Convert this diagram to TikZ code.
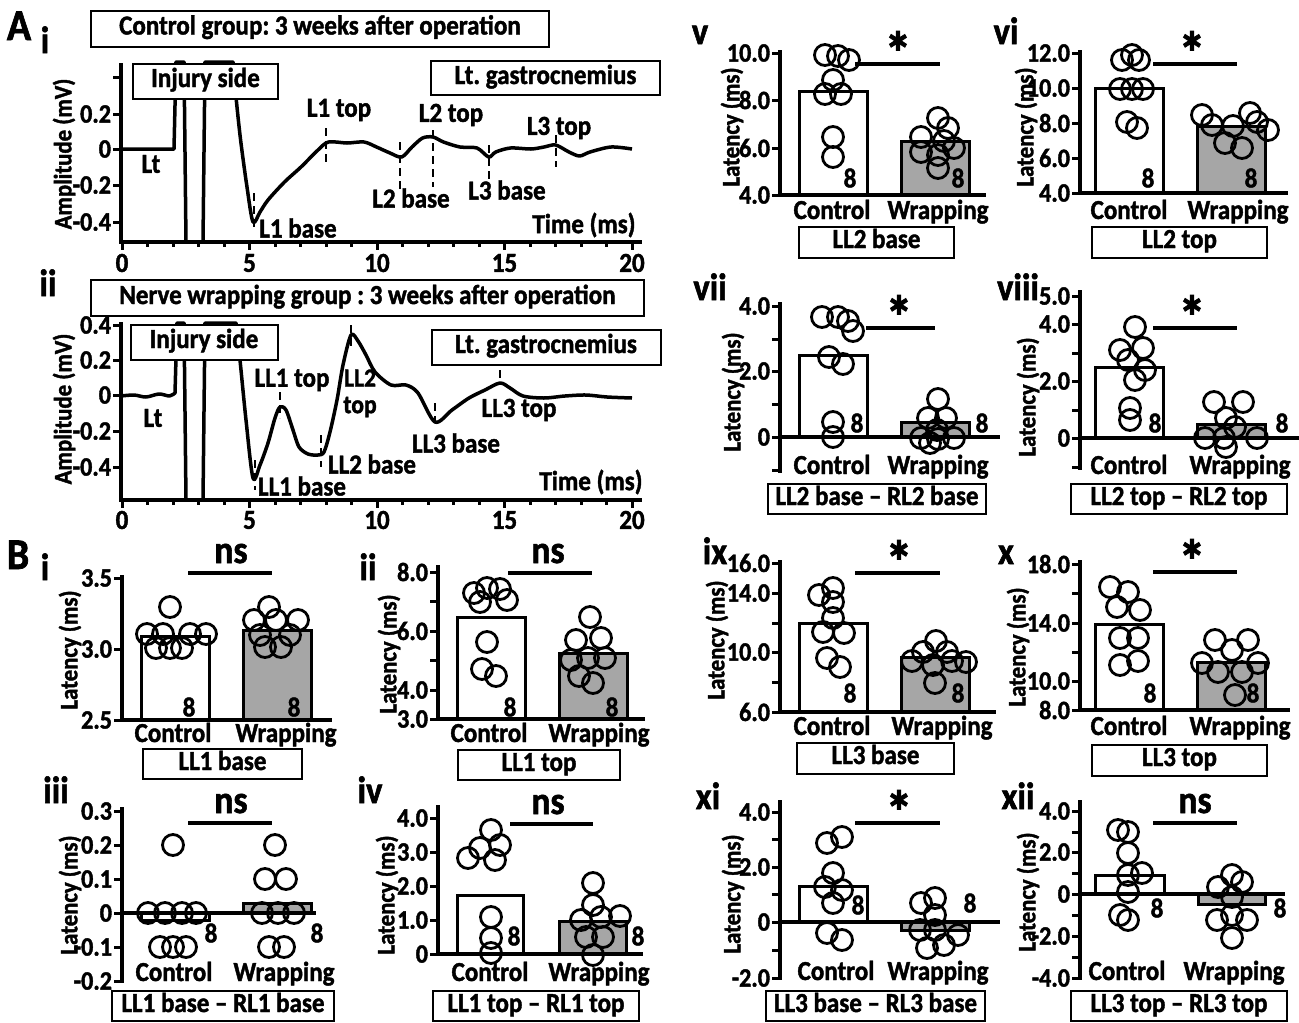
\documentclass[tikz,border=0pt]{standalone}
\usepackage{fontspec}
\setmainfont{Carlito}[FakeStretch=0.91, BoldFeatures={FakeBold=1.5}]
\newcommand\myfs[1]{\fontsize{#1}{#1}\selectfont}
\newcommand\ytk[3]{\draw[tkl] (#1-8,#2) -- (#1,#2); \node[tl] at (#1-10,#2) {#3};}
\newcommand\ymt[2]{\draw[tkl] (#1-8,#2) -- (#1,#2);}
\definecolor{barg}{RGB}{166,166,166}
\frenchspacing
\begin{document}
\begin{tikzpicture}[x=1pt,y=-1pt,
  every node/.style={inner sep=0pt, outer sep=0pt},
  txt/.style={font=\bfseries\myfs{27.5}},
  plab/.style={font=\bfseries\myfs{38}, anchor=base},
  big/.style={font=\bfseries\myfs{44}, anchor=base},
  star/.style={font=\bfseries\myfs{39}, anchor=base},
  ast/.style={font=\bfseries\myfs{60}, anchor=base},
  ylab/.style={font=\bfseries\myfs{25}, rotate=90},
  tl/.style={font=\bfseries\myfs{26.5}, anchor=east},
  grp/.style={font=\bfseries\myfs{27.5}, anchor=base},
  axl/.style={line width=4pt},
  tkl/.style={line width=3pt},
  cbar/.style={draw, line width=3pt, fill=white},
  wbar/.style={draw, line width=3pt, fill=barg},
  dot/.style={draw, line width=2.8pt},
  sigl/.style={line width=4.5pt},
  box/.style={draw, line width=2pt, fill=white, font=\bfseries\myfs{27.5}, text height=17pt, text depth=5pt},
  trace/.style={line width=3.5pt, line join=round},
  dsh/.style={line width=2.5pt, dash pattern=on 8pt off 5pt},
]
\useasboundingbox (0,0) rectangle (1299,1023);
\fill[white] (0,0) rectangle (1299,1023);

%================ A i =================
\draw[trace] (121,149) -- (174,149) -- (176,62) -- (184,62) -- (186,242) -- (203,242) -- (205,62) -- (233,62) --
 plot[smooth,tension=0.5] coordinates {(233,62) (236,97) (240.6,140) (247,187) (253,222) (260,212) (268,200) (284.5,182) (301,167) (318,150) (328.5,142) (347,143) (364,142) (376.5,147) (390,153) (401.7,157) (412,147) (422.6,138) (433,137) (443.5,142) (460,147) (477,148) (488.7,157) (495.8,152) (510.5,148) (531,149) (544,147) (555.6,145) (569,152) (579.5,156) (590,152) (611,147) (632,149)};
\draw[dsh] (254,193) -- (254,230);
\draw[dsh] (326,128) -- (326,162);
\draw[dsh] (400,142) -- (400,193);
\draw[dsh] (433,130) -- (433,187);
\draw[dsh] (489,145) -- (489,188);
\draw[dsh] (556,135) -- (556,167);
\draw[axl] (121,63) -- (121,242) -- (642,242);
\ymt{121}{77}
\ytk{121}{114}{0.2}
\ytk{121}{149}{0}
\ytk{121}{185}{-0.2}
\ytk{121}{222}{-0.4}
\foreach \t in {0,...,20} \draw[tkl] (122+25.5*\t,242) -- (122+25.5*\t,247);
\foreach \t in {0,5,...,20} {\draw[tkl] (122+25.5*\t,242) -- (122+25.5*\t,250); \node[txt] at (122+25.5*\t,263) {\t};}
\node[box, minimum width=458pt, minimum height=36pt] (tA1) at (320,28.5) {Control group: 3 weeks after operation};
\node[box, minimum width=145pt, minimum height=35pt] (inj1) at (205.5,81) {Injury side};
\node[box, minimum width=229pt, minimum height=34pt] (gas1) at (545.5,78) {Lt. gastrocnemius};
\node[ylab] (yA1) at (64,154) {Amplitude (mV)};
\node[txt] (lt1) at (151,164) {Lt};
\node[txt] (l1t) at (339,110) {L1 top};
\node[txt] (l2t) at (451,115) {L2 top};
\node[txt] (l3t) at (559,128) {L3 top};
\node[txt] (l2b) at (411,198) {L2 base};
\node[txt] (l3b) at (507,190) {L3 base};
\node[txt] (l1b) at (298,228) {L1 base};
\node[txt] (tm1) at (584,225) {Time (ms)};
\node[big] (A) at (19,40) {A};
\node[plab] (Ai) at (45,53) {i};

%================ A ii =================
\draw[trace] plot[smooth] coordinates {(121,396) (134,395) (146,397) (159,394) (169.5,396) (175,393)} -- (177,323) -- (184,323) -- (186,500) -- (203,500) -- (205,323) -- (236,323) --
 plot[smooth,tension=0.5] coordinates {(236,323) (240,360) (246,420) (253,478) (260,465) (268,443) (275,418) (280,407) (286,410) (293,430) (299,447) (308,454) (318,455) (324,452) (330,432) (337,400) (343,365) (351,335) (358,341) (366,355) (375,372) (391,385) (406,385) (418,393) (435,422) (452,410) (469,398) (485,390) (500,383) (510,388) (523,396) (544,398) (565,396) (586,395) (607,397) (632,398)};
\draw[dsh] (255,460) -- (255,490);
\draw[dsh] (280,392) -- (280,418);
\draw[dsh] (321,435) -- (321,467);
\draw[dsh] (351,325) -- (351,347);
\draw[dsh] (435,403) -- (435,422);
\draw[dsh] (500,370) -- (500,385);
\draw[axl] (121,322) -- (121,500) -- (642,500);
\ytk{121}{325}{0.4}
\ytk{121}{360}{0.2}
\ytk{121}{395}{0}
\ytk{121}{431}{-0.2}
\ytk{121}{467}{-0.4}
\foreach \t in {0,...,20} \draw[tkl] (122+25.5*\t,500) -- (122+25.5*\t,505);
\foreach \t in {0,5,...,20} {\draw[tkl] (122+25.5*\t,500) -- (122+25.5*\t,508); \node[txt] at (122+25.5*\t,520) {\t};}
\node[box, minimum width=553pt, minimum height=36pt] (tA2) at (367.5,298) {Nerve wrapping group : 3 weeks after operation};
\node[box, minimum width=147pt, minimum height=35pt] (inj2) at (204,342) {Injury side};
\node[box, minimum width=229pt, minimum height=35pt] (gas2) at (546,347) {Lt. gastrocnemius};
\node[ylab] (yA2) at (64,409) {Amplitude (mV)};
\node[txt] (lt2) at (153,418) {Lt};
\node[txt] (ll1t) at (292,380) {LL1 top};
\node[font=\bfseries\myfs{26}] (ll2t) at (360,378) {LL2};
\node[font=\bfseries\myfs{26}] (ll2tt) at (360,407) {top};
\node[txt] (ll2b) at (372,464) {LL2 base};
\node[txt] (ll1b) at (302,486) {LL1 base};
\node[txt] (ll3b) at (456,443) {LL3 base};
\node[txt] (ll3t) at (519,410) {LL3 top};
\node[txt] (tm2) at (591,482) {Time (ms)};
\node[plab] (Aii) at (48,296) {ii};

%================ B i =================
\draw[cbar] (141,720) rectangle (209,636);
\draw[wbar] (243,720) rectangle (311,630);
\draw[axl] (122,575) -- (122,720) -- (332,720);
\ytk{122}{578}{3.5}
\ytk{122}{649}{3.0}
\ytk{122}{720}{2.5}
\foreach \a/\b in {170/607, 147/634, 163/634, 190/634, 206/634, 156/648, 170/648, 182/648, 269/607, 254/620, 276/620, 298/620, 260/635, 290/635, 265/647, 281/647} \draw[dot] (\a,\b) circle[radius=10.5pt];
\node[txt] at (189,707) {8}; \node[txt] at (294,707) {8};
\draw[sigl] (188,573) -- (272,573);
\node[star] at (231,563) {ns};
\node[ylab] at (70,650) {Latency (ms)};
\node[grp] at (173,742) {Control}; \node[grp] at (286,742) {Wrapping};
\node[box, minimum width=159pt, minimum height=30pt] (bi) at (222.5,764) {LL1 base};
\node[big] (B) at (18,569) {B};
\node[plab] at (45,580) {i};

%================ B ii =================
\draw[cbar] (457,719) rectangle (525,617);
\draw[wbar] (559,719) rectangle (627,653);
\draw[axl] (438,565) -- (438,719) -- (645,719);
\ytk{438}{572}{8.0}
\ymt{438}{601}
\ytk{438}{631}{6.0}
\ymt{438}{660}
\ytk{438}{690}{4.0}
\ytk{438}{719}{3.0}
\foreach \a/\b in {474/593, 487/588, 500/589, 507/600, 480/602, 487/642, 482/669, 496/676, 590/617, 576/640, 601/638, 571/660, 588/658, 605/658, 579/676, 593/683} \draw[dot] (\a,\b) circle[radius=10.5pt];
\node[txt] at (510,707) {8}; \node[txt] at (612,707) {8};
\draw[sigl] (508,573) -- (592,573);
\node[star] at (548,563) {ns};
\node[ylab] at (389,654) {Latency (ms)};
\node[grp] at (489,742) {Control}; \node[grp] at (599,742) {Wrapping};
\node[box, minimum width=162pt, minimum height=30pt] (bii) at (539,765) {LL1 top};
\node[plab] at (368,580) {ii};

%================ B iii =================
\draw[cbar] (141,913) rectangle (209,920);
\draw[wbar] (243,913) rectangle (311,903);
\draw[axl] (122,807) -- (122,983);
\draw[axl] (122,913) -- (316,913);
\ytk{122}{811}{0.3}
\ytk{122}{845}{0.2}
\ytk{122}{879}{0.1}
\ytk{122}{913}{0}
\ytk{122}{947}{-0.1}
\ytk{122}{981}{-0.2}
\foreach \a/\b in {173/845, 148/913, 165/913, 182/913, 196/913, 160/947, 173/947, 186/947, 275/845, 265/879, 286/879, 262/913, 278/913, 294/913, 269/947, 284/947} \draw[dot] (\a,\b) circle[radius=10.5pt];
\node[txt] at (211,933) {8}; \node[txt] at (317,933) {8};
\draw[sigl] (188,823) -- (272,823);
\node[star] at (231,813) {ns};
\node[ylab] at (70,895) {Latency (ms)};
\node[grp] at (174,981) {Control}; \node[grp] at (284,981) {Wrapping};
\node[box, minimum width=222pt, minimum height=30pt] (biii) at (223,1006) {LL1 base – RL1 base};
\node[plab] at (56,803) {iii};

%================ B iv =================
\draw[cbar] (457,954) rectangle (523,895);
\draw[wbar] (559,954) rectangle (626,921);
\draw[axl] (438,805) -- (438,954) -- (643,954);
\ytk{438}{818}{4.0}
\ytk{438}{852}{3.0}
\ytk{438}{886}{2.0}
\ytk{438}{920}{1.0}
\ytk{438}{954}{0}
\foreach \a/\b in {491/830, 480/848, 500/845, 468/858, 495/860, 491/917, 491/938, 491/953, 593/883, 593/905, 581/920, 601/917, 620/916, 586/937, 603/937, 593/955} \draw[dot] (\a,\b) circle[radius=10.5pt];
\node[txt] at (514,936) {8}; \node[txt] at (638,936) {8};
\draw[sigl] (510,824) -- (593,824);
\node[star] at (548,814) {ns};
\node[ylab] at (387,895) {Latency (ms)};
\node[grp] at (490,981) {Control}; \node[grp] at (599,981) {Wrapping};
\node[box, minimum width=206pt, minimum height=30pt] (biv) at (536,1006) {LL1 top – RL1 top};
\node[plab] at (370,803) {iv};

%================ v =================
\draw[cbar] (799,195) rectangle (867,91);
\draw[wbar] (901,195) rectangle (969,141);
\draw[axl] (780,50) -- (780,195) -- (986,195);
\ytk{780}{53}{10.0}
\ytk{780}{100}{8.0}
\ytk{780}{148}{6.0}
\ytk{780}{195}{4.0}
\foreach \a/\b in {825/55, 838/56, 849/60, 833/80, 825/94, 841/94, 833/137, 833/157, 938/118, 948/128, 921/137, 944/141, 954/148, 921/152, 938/155, 938/168} \draw[dot] (\a,\b) circle[radius=10.5pt];
\node[txt] at (850,178) {8}; \node[txt] at (958,178) {8};
\draw[sigl] (855,64) -- (940,64);
\node[ast] at (898,74) {*};
\node[ylab] at (732,127) {Latency (ms)};
\node[grp] at (832,219) {Control}; \node[grp] at (938,219) {Wrapping};
\node[box, minimum width=155pt, minimum height=31pt] (bv) at (876.5,242) {LL2 base};
\node[plab] at (700,44) {v};

%================ vi =================
\draw[cbar] (1095,193) rectangle (1163,88);
\draw[wbar] (1197,193) rectangle (1265,126);
\draw[axl] (1080,50) -- (1080,193) -- (1288,193);
\ytk{1080}{53}{12.0}
\ytk{1080}{88}{10.0}
\ytk{1080}{123}{8.0}
\ytk{1080}{158}{6.0}
\ytk{1080}{193}{4.0}
\foreach \a/\b in {1122/60, 1132/55, 1139/60, 1120/89, 1132/89, 1143/89, 1127/122, 1137/128, 1202/115, 1212/125, 1233/126, 1250/113, 1257/122, 1268/130, 1225/143, 1242/148} \draw[dot] (\a,\b) circle[radius=10.5pt];
\node[txt] at (1148,178) {8}; \node[txt] at (1251,178) {8};
\draw[sigl] (1153,64) -- (1237,64);
\node[ast] at (1192,74) {*};
\node[ylab] at (1026,127) {Latency (ms)};
\node[grp] at (1129,219) {Control}; \node[grp] at (1238,219) {Wrapping};
\node[box, minimum width=175pt, minimum height=31pt] (bvi) at (1179.5,242) {LL2 top};
\node[plab] at (1006,44) {vi};

%================ vii =================
\draw[cbar] (799,437) rectangle (867,355);
\draw[wbar] (901,437) rectangle (969,422);
\draw[axl] (780,302) -- (780,473);
\draw[axl] (780,437) -- (1000,437);
\ytk{780}{306}{4.0}
\ymt{780}{339}
\ytk{780}{371}{2.0}
\ymt{780}{404}
\ytk{780}{437}{0}
\ymt{780}{470}
\foreach \a/\b in {822/317, 838/317, 848/321, 853/331, 829/357, 843/364, 833/422, 833/437, 938/399, 928/418, 946/418, 937/430, 921/438, 938/439, 954/438, 930/443} \draw[dot] (\a,\b) circle[radius=10.5pt];
\node[txt] at (857,423) {8}; \node[txt] at (982,423) {8};
\draw[sigl] (866,328) -- (935,328);
\node[ast] at (899,338) {*};
\node[ylab] at (733,392) {Latency (ms)};
\node[grp] at (832,474) {Control}; \node[grp] at (938,474) {Wrapping};
\node[box, minimum width=218pt, minimum height=30pt] (bvii) at (877,499) {LL2 base – RL2 base};
\node[plab] at (710,300) {vii};

%================ viii =================
\draw[cbar] (1095,438) rectangle (1163,367);
\draw[wbar] (1197,438) rectangle (1265,424);
\draw[axl] (1080,290) -- (1080,470);
\draw[axl] (1080,438) -- (1300,438);
\ytk{1080}{296}{5.0}
\ytk{1080}{324}{4.0}
\ymt{1080}{353}
\ytk{1080}{381}{2.0}
\ymt{1080}{410}
\ytk{1080}{438}{0}
\ymt{1080}{467}
\foreach \a/\b in {1135/327, 1120/350, 1143/348, 1128/360, 1145/370, 1135/380, 1130/408, 1130/420, 1214/402, 1243/402, 1226/418, 1235/427, 1224/438, 1205/438, 1257/438, 1226/447} \draw[dot] (\a,\b) circle[radius=10.5pt];
\node[txt] at (1155,423) {8}; \node[txt] at (1282,423) {8};
\draw[sigl] (1153,328) -- (1237,328);
\node[ast] at (1192,338) {*};
\node[ylab] at (1028,397) {Latency (ms)};
\node[grp] at (1129,474) {Control}; \node[grp] at (1240,474) {Wrapping};
\node[box, minimum width=216pt, minimum height=30pt] (bviii) at (1179,499) {LL2 top – RL2 top};
\node[plab] at (1018,300) {viii};

%================ ix =================
\draw[cbar] (799,712) rectangle (867,623);
\draw[wbar] (901,712) rectangle (969,657);
\draw[axl] (780,560) -- (780,712) -- (996,712);
\ytk{780}{563}{16.0}
\ytk{780}{593}{14.0}
\ymt{780}{623}
\ytk{780}{652}{10.0}
\ymt{780}{682}
\ytk{780}{712}{6.0}
\foreach \a/\b in {819/595, 833/588, 833/602, 833/618, 823/632, 844/633, 827/658, 840/667, 936/641, 923/652, 947/652, 912/661, 966/662, 933/665, 952/661, 935/683} \draw[dot] (\a,\b) circle[radius=10.5pt];
\node[txt] at (850,693) {8}; \node[txt] at (958,693) {8};
\draw[sigl] (855,573) -- (940,573);
\node[ast] at (899,583) {*};
\node[ylab] at (717,640) {Latency (ms)};
\node[grp] at (832,735) {Control}; \node[grp] at (942,735) {Wrapping};
\node[box, minimum width=157pt, minimum height=31pt] (bix) at (875.5,758) {LL3 base};
\node[plab] at (715,564) {ix};

%================ x =================
\draw[cbar] (1095,710) rectangle (1163,624);
\draw[wbar] (1197,710) rectangle (1265,662);
\draw[axl] (1080,560) -- (1080,710) -- (1290,710);
\ytk{1080}{564}{18.0}
\ymt{1080}{593}
\ytk{1080}{623}{14.0}
\ymt{1080}{652}
\ytk{1080}{681}{10.0}
\ytk{1080}{710}{8.0}
\foreach \a/\b in {1110/587, 1128/592, 1117/607, 1140/610, 1120/638, 1138/638, 1120/665, 1138/661, 1215/640, 1248/640, 1232/650, 1202/663, 1258/663, 1218/672, 1242/672, 1235/695} \draw[dot] (\a,\b) circle[radius=10.5pt];
\node[txt] at (1150,693) {8}; \node[txt] at (1253,693) {8};
\draw[sigl] (1153,572) -- (1237,572);
\node[ast] at (1192,582) {*};
\node[ylab] at (1018,647) {Latency (ms)};
\node[grp] at (1129,735) {Control}; \node[grp] at (1240,735) {Wrapping};
\node[box, minimum width=175pt, minimum height=31pt] (bx) at (1179.5,760) {LL3 top};
\node[plab] at (1006,564) {x};

%================ xi =================
\draw[cbar] (799,922) rectangle (867,886);
\draw[wbar] (901,922) rectangle (969,930);
\draw[axl] (780,800) -- (780,980);
\draw[axl] (780,922) -- (1000,922);
\ytk{780}{812}{4.0}
\ymt{780}{839}
\ytk{780}{867}{2.0}
\ymt{780}{894}
\ytk{780}{922}{0}
\ymt{780}{950}
\ytk{780}{978}{-2.0}
\foreach \a/\b in {827/843, 842/837, 833/873, 825/887, 842/890, 833/903, 827/933, 842/940, 921/903, 935/898, 935/915, 920/930, 935/930, 958/935, 944/945, 927/948} \draw[dot] (\a,\b) circle[radius=10.5pt];
\node[txt] at (858,905) {8}; \node[txt] at (970,903) {8};
\draw[sigl] (855,823) -- (940,823);
\node[ast] at (899,833) {*};
\node[ylab] at (733,894) {Latency (ms)};
\node[grp] at (836,980) {Control}; \node[grp] at (938,980) {Wrapping};
\node[box, minimum width=219pt, minimum height=30pt] (bxi) at (875.5,1006) {LL3 base – RL3 base};
\node[plab] at (708,809) {xi};

%================ xii =================
\draw[cbar] (1095,894) rectangle (1164,875);
\draw[wbar] (1198,894) rectangle (1265,904);
\draw[axl] (1080,800) -- (1080,980);
\draw[axl] (1080,894) -- (1285,894);
\ytk{1080}{811}{4.0}
\ymt{1080}{832}
\ytk{1080}{852}{2.0}
\ymt{1080}{873}
\ytk{1080}{894}{0}
\ymt{1080}{915}
\ytk{1080}{936}{-2.0}
\ymt{1080}{957}
\ytk{1080}{978}{-4.0}
\foreach \a/\b in {1118/830, 1128/832, 1128/853, 1128/875, 1142/873, 1128/892, 1120/915, 1128/920, 1232/875, 1242/882, 1218/887, 1232/897, 1217/920, 1232/915, 1247/920, 1232/938} \draw[dot] (\a,\b) circle[radius=10.5pt];
\node[txt] at (1157,908) {8}; \node[txt] at (1280,908) {8};
\draw[sigl] (1153,823) -- (1237,823);
\node[star] at (1195,813) {ns};
\node[ylab] at (1028,892) {Latency (ms)};
\node[grp] at (1127,980) {Control}; \node[grp] at (1234,980) {Wrapping};
\node[box, minimum width=216pt, minimum height=30pt] (bxii) at (1179,1006) {LL3 top – RL3 top};
\node[plab] at (1018,809) {xii};
\end{tikzpicture}
\end{document}
